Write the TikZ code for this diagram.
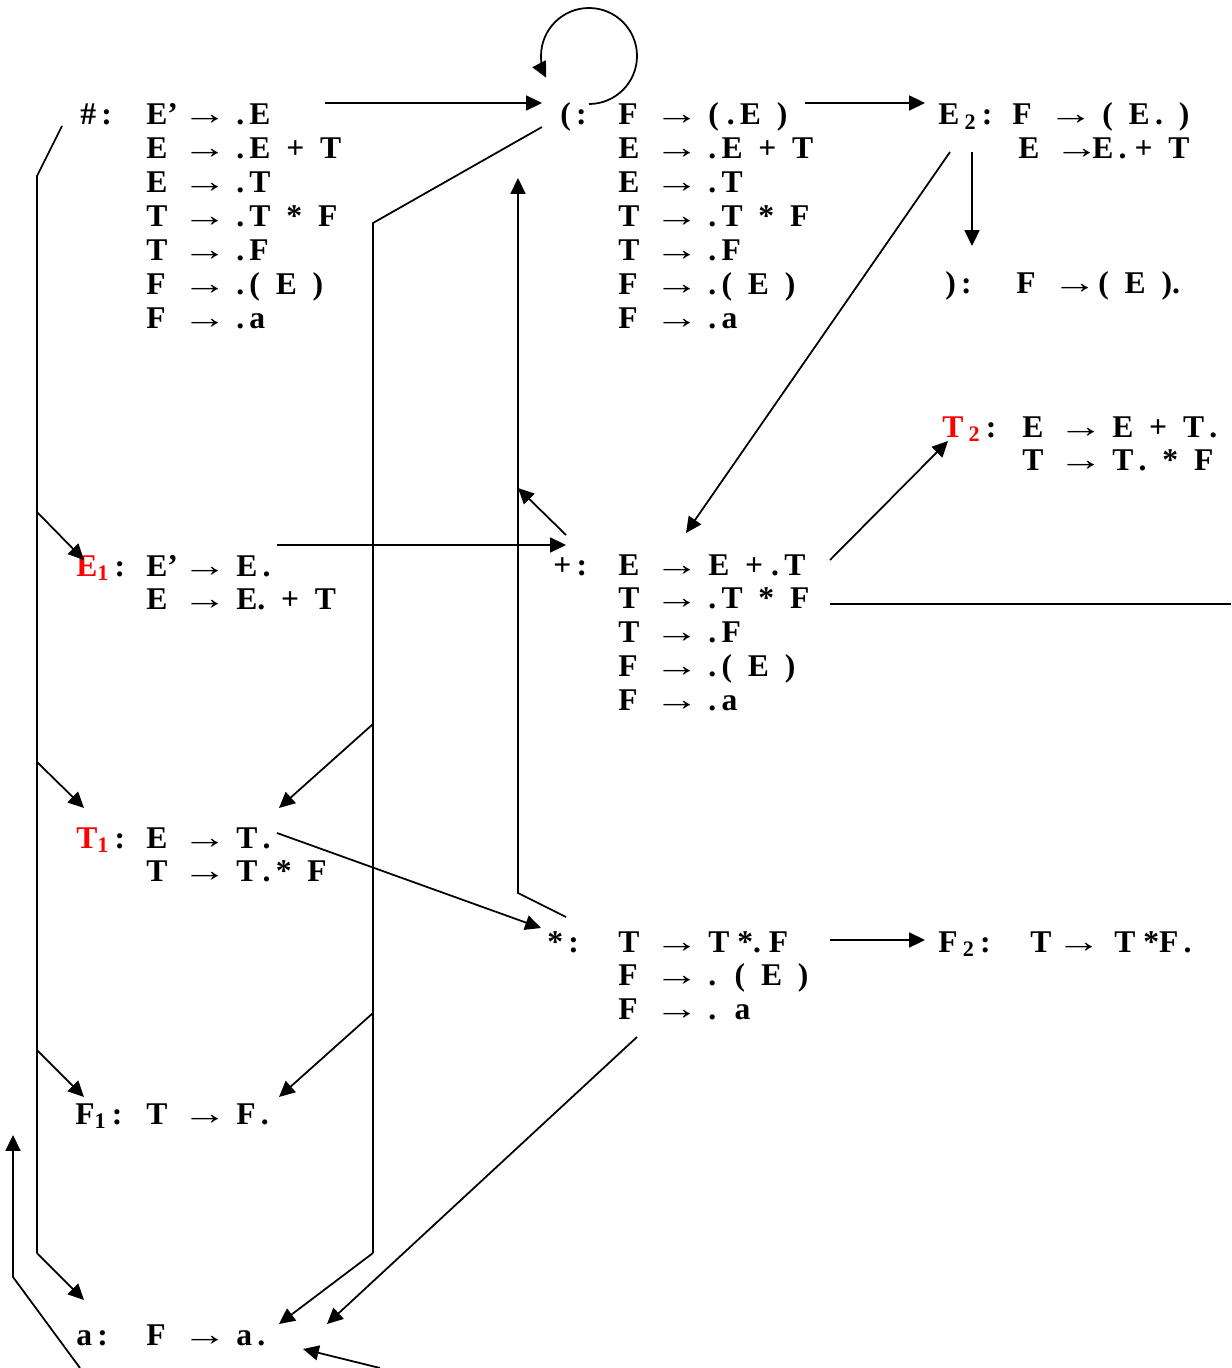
\documentclass[tikz,border=0pt]{standalone}
\usepackage{fontspec}
\setmainfont{Liberation Serif}
\usepackage{graphicx}
\usepackage{tikz}
\usetikzlibrary{arrows.meta, calc}
\definecolor{statered}{RGB}{255, 0, 0}

\newlength{\lhsw}
\setlength{\lhsw}{0.84cm}
\newcommand{\arr}{{\fontsize{16}{16}\selectfont\mdseries\hspace{-0.12cm}\scalebox{1.6}[1.15]{→}}}
\newcommand{\itm}[3][0.96cm]{\makebox[\lhsw][l]{#2}\makebox[#1][l]{\arr}#3}

\begin{document}
\begin{tikzpicture}[
    x=0.02cm, y=-0.02cm,
    lbl/.style={anchor=base west, inner sep=0pt,
                font=\fontsize{18}{19.3}\selectfont\bfseries},
    items/.style={lbl},
    arrow/.style={-{Triangle[length=9pt, width=8.5pt]}, line width=1pt},
    link/.style={line width=1pt}
]
    \useasboundingbox (0,0) rectangle (1231,1368);

    % State #
    \node[lbl] (hash) at (80,125) {\#\,:};
    \node[items] (hashset) at (146,125) {\begin{tabular}[t]{@{}l@{}}
        \itm{E’}{.\,E}\\
        \itm{E}{.\,E \ + \ T}\\
        \itm{E}{.\,T}\\
        \itm{T}{.\,T \ * \ F}\\
        \itm{T}{.\,F}\\
        \itm{F}{.\,( \ E \ )}\\
        \itm{F}{.\,a}
    \end{tabular}};

    % State (
    \node[lbl] (paren) at (560,125) {(\,:};
    \node[items] (parenset) at (618,125) {\begin{tabular}[t]{@{}l@{}}
        \itm{F}{( .\,E \ )}\\
        \itm{E}{.\,E \ + \ T}\\
        \itm{E}{.\,T}\\
        \itm{T}{.\,T \ * \ F}\\
        \itm{T}{.\,F}\\
        \itm{F}{.\,( \ E \ )}\\
        \itm{F}{.\,a}
    \end{tabular}};

    % State E2
    \node[lbl] (etwo) at (938,125) {E\,\textsubscript{2}\,:};
    \node[items] (etwoset) at (1012,125) {\begin{tabular}[t]{@{}l@{}}
        \itm{F}{( \ E\,. \ )}\\
        \hspace{0.12cm}\itm[0.64cm]{E}{E\,. + \ T}
    \end{tabular}};

    % State )
    \node[lbl] (close) at (945,294) {)\,:};
    \node[items] (closeset) at (1016,294) {\itm[0.8cm]{F}{( \ E \ ).}};

    % State T2
    \node[lbl] (ttwo) at (942,437) {\textcolor{statered}{T\,\textsubscript{2}}\,:};
    \node[items] (ttwoset) at (1022,437) {\begin{tabular}[t]{@{}l@{}}
        \itm{E}{E \ + \ T\,.}\\
        \itm{T}{T\,. \ * \ F}
    \end{tabular}};

    % State E1
    \node[lbl] (eone) at (76,576) {\textcolor{statered}{E\textsubscript{1}}\,:};
    \node[items] (eoneset) at (146,576) {\begin{tabular}[t]{@{}l@{}}
        \itm{E’}{E\,.}\\
        \itm{E}{E. \ + \ T}
    \end{tabular}};

    % State +
    \node[lbl] (plus) at (553,575) {+\,:};
    \node[items] (plusset) at (618,575) {\begin{tabular}[t]{@{}l@{}}
        \itm{E}{E \ + .\,T}\\
        \itm{T}{.\,T \ * \ F}\\
        \itm{T}{.\,F}\\
        \itm{F}{.\,( \ E \ )}\\
        \itm{F}{.\,a}
    \end{tabular}};

    % State T1
    \node[lbl] (tone) at (76,848) {\textcolor{statered}{T\textsubscript{1}}\,:};
    \node[items] (toneset) at (146,848) {\begin{tabular}[t]{@{}l@{}}
        \itm{E}{T\,.}\\
        \itm{T}{T\,.\,* \ F}
    \end{tabular}};

    % State *
    \node[lbl] (star) at (547,952) {*\,:};
    \node[items] (starset) at (618,952) {\begin{tabular}[t]{@{}l@{}}
        \itm{T}{T *.\ F}\\
        \itm{F}{. \ ( \ E \ )}\\
        \itm{F}{. \ a}
    \end{tabular}};

    % State F2
    \node[lbl] (ftwo) at (938,952) {F\,\textsubscript{2}\,:};
    \node[items] (ftwoset) at (1030,952) {\setlength{\lhsw}{0.64cm}\itm[1.04cm]{T}{T *F\,.}};

    % State F1
    \node[lbl] (fone) at (75,1124) {F\textsubscript{1}\,:};
    \node[items] (foneset) at (146,1124) {\itm{T}{F\,.}};

    % State a
    \node[lbl] (aa) at (76,1345) {a\,:};
    \node[items] (aaset) at (146,1345) {\itm{F}{a\,.}};

    % Bus on the left
    \coordinate (lbusTop) at (37,176);
    \coordinate (lbusEnd) at (37,1253);
    \draw[link] ($(hash.base west)+(-18,1)$) -- (lbusTop) -- (lbusEnd);
    \foreach \tap/\y in {tapE/512, tapT/762, tapF/1050}
        \coordinate (\tap) at (37,\y);
    \draw[arrow] (tapE) -- ($(eone.base west)+(8,-16)$);
    \draw[arrow] (tapT) -- ($(tone.base west)+(8,-40)$);
    \draw[arrow] (tapF) -- ($(fone.base west)+(9,-27)$);
    \draw[arrow] (lbusEnd) -- ($(aa.base west)+(8,-45)$);

    % Bus in the middle
    \coordinate (mbusTop) at (373,223);
    \coordinate (mbusEnd) at (373,1253);
    \draw[link] ($(paren.base west)+(-18,2)$) -- (mbusTop) -- (mbusEnd);
    \foreach \tap/\y in {tapTm/724, tapFm/1013}
        \coordinate (\tap) at (373,\y);
    \draw[arrow] (tapTm) -- ($(toneset.base west)+(133,-40)$);
    \draw[arrow] (tapFm) -- ($(foneset.base west)+(133,-27)$);
    \draw[arrow] (mbusEnd) -- ($(aaset.base west)+(133,-21)$);

    % Transitions
    \draw[arrow] ($(hashset.base west)+(179,-22)$) -- ($(paren.base west)+(-18,-22)$);
    \draw[arrow] ($(paren.base west)+(29,-21)$) arc[start angle=90, end angle=-207, radius=48];
    \draw[arrow] ($(parenset.base west)+(187,-22)$) -- ($(etwo.base west)+(-13,-22)$);
    \draw[arrow] ($(etwo.base west)+(34,27)$) -- ($(close.base west)+(27,-48)$);
    \draw[arrow] ($(etwo.base west)+(12,27)$) -- ($(plusset.base west)+(68,-42)$);
    \draw[arrow] ($(plusset.base west)+(212,-15)$) -- ($(ttwo.base west)+(6,4)$);
    \coordinate (offRight) at (1231,604);
    \draw[link] ($(plusset.base west)+(212,29)$) -- (offRight);

    % Back to state (
    \coordinate (rbusJoin) at (518,488);
    \coordinate (rbusEnd) at (518,893);
    \draw[arrow] ($(plus.base west)+(13,-40)$) -- (rbusJoin);
    \draw[arrow] ($(star.base west)+(19,-35)$) -- (rbusEnd)
        -- ($(parenset.base west)+(-100,53)$);

    \draw[arrow] ($(eoneset.base west)+(131,-31)$) -- ($(plus.base west)+(13,-30)$);
    \draw[arrow] ($(toneset.base west)+(131,-15)$) -- ($(star.base west)+(-6,-24)$);
    \draw[arrow] ($(starset.base west)+(212,-12)$) -- ($(ftwo.base west)+(-13,-12)$);
    \draw[arrow] ($(starset.base west)+(19,85)$) -- ($(aaset.base west)+(181,-21)$);

    % Lines from below
    \coordinate (offBotA) at (380,1368);
    \coordinate (offBotB) at (80,1368);
    \coordinate (upCorner) at (13,1277);
    \coordinate (upEnd) at (13,1135);
    \draw[arrow] (offBotA) -- ($(aaset.base west)+(157,4)$);
    \draw[arrow] (offBotB) -- (upCorner) -- (upEnd);
\end{tikzpicture}
\end{document}
